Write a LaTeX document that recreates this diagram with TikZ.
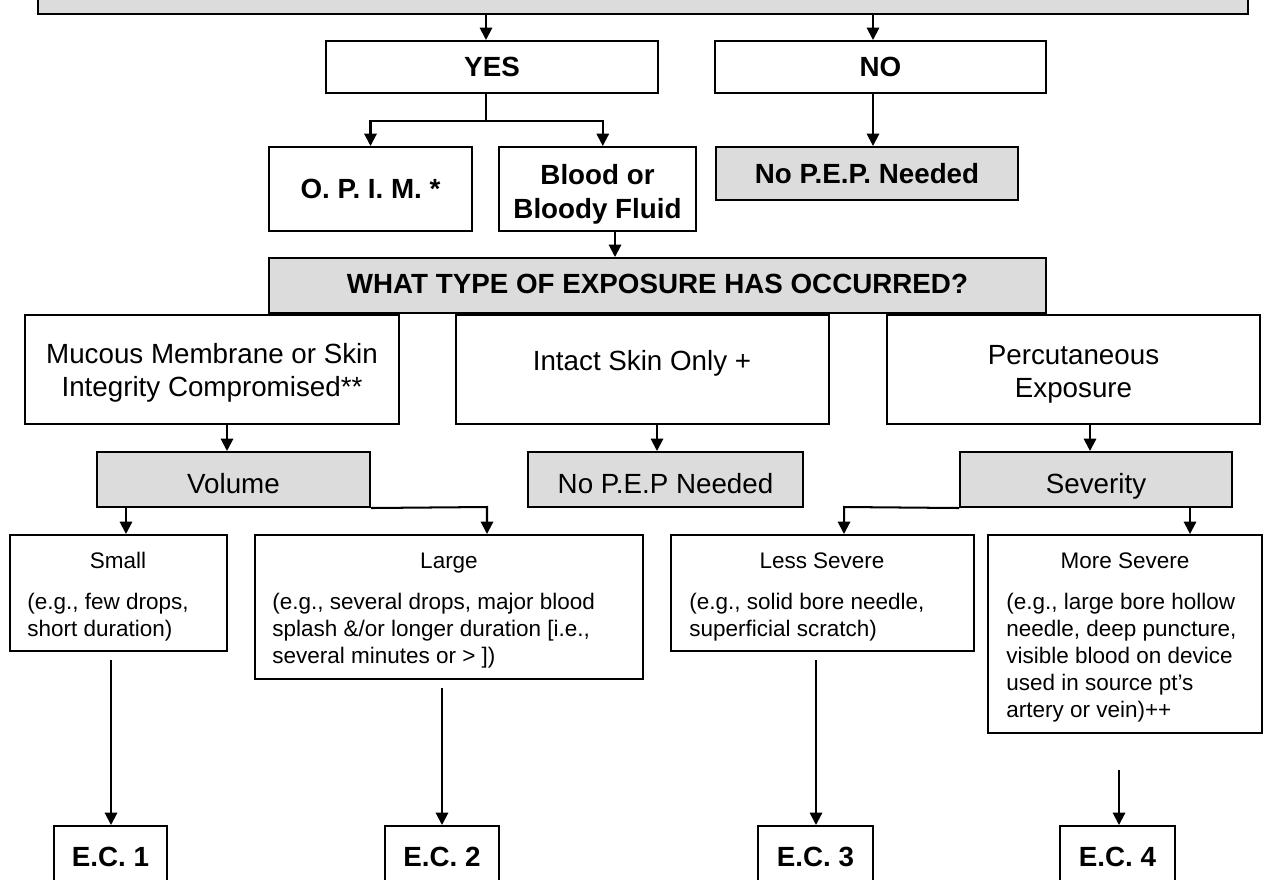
\documentclass[tikz,border=0pt]{standalone}
\usepackage{fontspec}
\setmainfont{Liberation Sans}
\usetikzlibrary{arrows.meta,calc}
\definecolor{boxgray}{RGB}{220,220,220}
\newcommand\mybox[7]{\node[#6, minimum width={(#4-#2)*0.02cm}, minimum height={(#5-#3)*0.02cm}] (#1) at ({(#2+#4)/2},{(#3+#5)/2}) {#7};}
\begin{document}
\begin{tikzpicture}[x=0.02cm,y=-0.02cm,
  bx/.style={draw=black, line width=1.15pt, fill=white, inner sep=0pt, font=\fontsize{15.8}{18.7}\selectfont, align=center},
  gbx/.style={bx, fill=boxgray, text height=16.4pt, text depth=0pt},
  bbx/.style={bx, font=\fontsize{15.8}{19.3}\selectfont\bfseries},
  gbbx/.style={bbx, fill=boxgray},
  txt/.style={inner sep=0pt, font=\fontsize{15.8}{18.7}\selectfont, align=center},
  btxt/.style={inner sep=0pt, font=\fontsize{15.8}{19.3}\selectfont\bfseries, align=center},
  sm/.style={inner sep=0pt, font=\fontsize{12.8}{15.3}\selectfont},
  arr/.style={line width=1.15pt, -{Triangle[length=7pt,width=7pt]}},
  ln/.style={line width=1.15pt}]
\useasboundingbox (0,0) rectangle (1266,879);
\clip (0,0) rectangle (1266,879);
% top question box (cut off)
\mybox{top}{38}{-40}{1248}{14}{gbbx}{}
% yes / no
\mybox{yes}{326}{41}{658}{93}{bbx}{YES}
\mybox{no}{715}{41}{1046}{93}{bbx}{NO}
\mybox{opim}{269}{147}{472}{231}{bbx}{O. P. I. M. *}
\mybox{blood}{499}{147}{696}{231}{bbx}{}
\node[btxt] (bloodT) at (597.5,194) {Blood or\\Bloody Fluid};
\mybox{nopep}{716}{147}{1018}{200}{gbbx}{No P.E.P. Needed}
\mybox{what}{269}{258}{1046}{313}{gbbx}{}
\node[btxt] (whatT) at (657.5,283.5) {WHAT TYPE OF EXPOSURE HAS OCCURRED?};
% exposure types
\mybox{mucous}{25}{315}{399}{424}{bx}{}
\node[txt] (mucousT) at (212,372.5) {Mucous Membrane or Skin\\Integrity Compromised**};
\mybox{intact}{456}{315}{829}{424}{bx}{}
\node[txt] (intactT) at (642,363) {Intact Skin Only +};
\mybox{perc}{887}{315}{1260}{424}{bx}{}
\node[txt] (percT) at (1073.5,374.5) {Percutaneous\\Exposure};
\mybox{volume}{97}{452}{370}{507}{gbx}{Volume}
\mybox{nopepb}{528}{452}{803}{507}{gbx}{No P.E.P Needed}
\mybox{sev}{960}{452}{1232}{507}{gbx}{Severity}
% example boxes
\mybox{small}{10}{535}{227}{651}{bx}{}
\mybox{large}{255}{535}{643}{679}{bx}{}
\mybox{less}{671}{535}{974}{651}{bx}{}
\mybox{more}{988}{535}{1262}{733}{bx}{}
\node[sm, anchor=base] (smallH) at (118,568) {Small};
\node[sm, anchor=north west, align=left] (smallB) at (27,593) {(e.g., few drops,\\short duration)};
\node[sm, anchor=base] (largeH) at (449,568) {Large};
\node[sm, anchor=north west, align=left] (largeB) at (272,593) {(e.g., several drops, major blood\\splash \&/or longer duration [i.e.,\\several minutes or > ])};
\node[sm, anchor=base] (lessH) at (822,568) {Less Severe};
\node[sm, anchor=north west, align=left] (lessB) at (689,593) {(e.g., solid bore needle,\\superficial scratch)};
\node[sm, anchor=base] (moreH) at (1125,568) {More Severe};
\node[sm, anchor=north west, align=left] (moreB) at (1006,593) {(e.g., large bore hollow\\needle, deep puncture,\\visible blood on device\\used in source pt's\\artery or vein)++};
% exposure categories
\mybox{ec1}{54}{826}{167}{888}{bbx}{E.C. 1}
\mybox{ec2}{385}{826}{499}{888}{bbx}{E.C. 2}
\mybox{ec3}{758}{826}{873}{888}{bbx}{E.C. 3}
\mybox{ec4}{1060}{826}{1175}{888}{bbx}{E.C. 4}
% connectors
\coordinate (ta) at (486,14);
\coordinate (tb) at (873,14);
\draw[arr] (ta) -- (ta |- yes.north);
\draw[arr] (tb) -- (tb |- no.north);
\coordinate (ya) at (486,93);
\coordinate (yb) at (486,121);
\draw[ln] (ya) -- (yb);
\draw[arr] (yb) -| (opim.north);
\draw[arr] (yb) -| ([xshift=3pt]blood.north);
\coordinate (na) at (873,93);
\draw[arr] (na) -- (na |- nopep.north);
\coordinate (ba) at (615,231);
\draw[arr] (ba) -- (ba |- what.north);
\coordinate (ma) at (227,424);
\draw[arr] (ma) -- (ma |- volume.north);
\coordinate (ia) at (657,424);
\draw[arr] (ia) -- (ia |- nopepb.north);
\coordinate (pa) at (1090,424);
\draw[arr] (pa) -- (pa |- sev.north);
\coordinate (v1) at (126,507);
\draw[arr] (v1) -- (v1 |- small.north);
\coordinate (v2) at (487,507);
\draw[arr] (volume.south east) -- (v2) -- (v2 |- large.north);
\coordinate (s1) at (844,507);
\draw[arr] (sev.south west) -- (s1) -- (s1 |- less.north);
\coordinate (s2) at (1190,507);
\draw[arr] (s2) -- (s2 |- more.north);
\coordinate (e1) at (111,660);
\draw[arr] (e1) -- (e1 |- ec1.north);
\coordinate (e2) at (442,688);
\draw[arr] (e2) -- (e2 |- ec2.north);
\coordinate (e3) at (816,660);
\draw[arr] (e3) -- (e3 |- ec3.north);
\coordinate (e4) at (1119,770);
\draw[arr] (e4) -- (e4 |- ec4.north);
\end{tikzpicture}
\end{document}
